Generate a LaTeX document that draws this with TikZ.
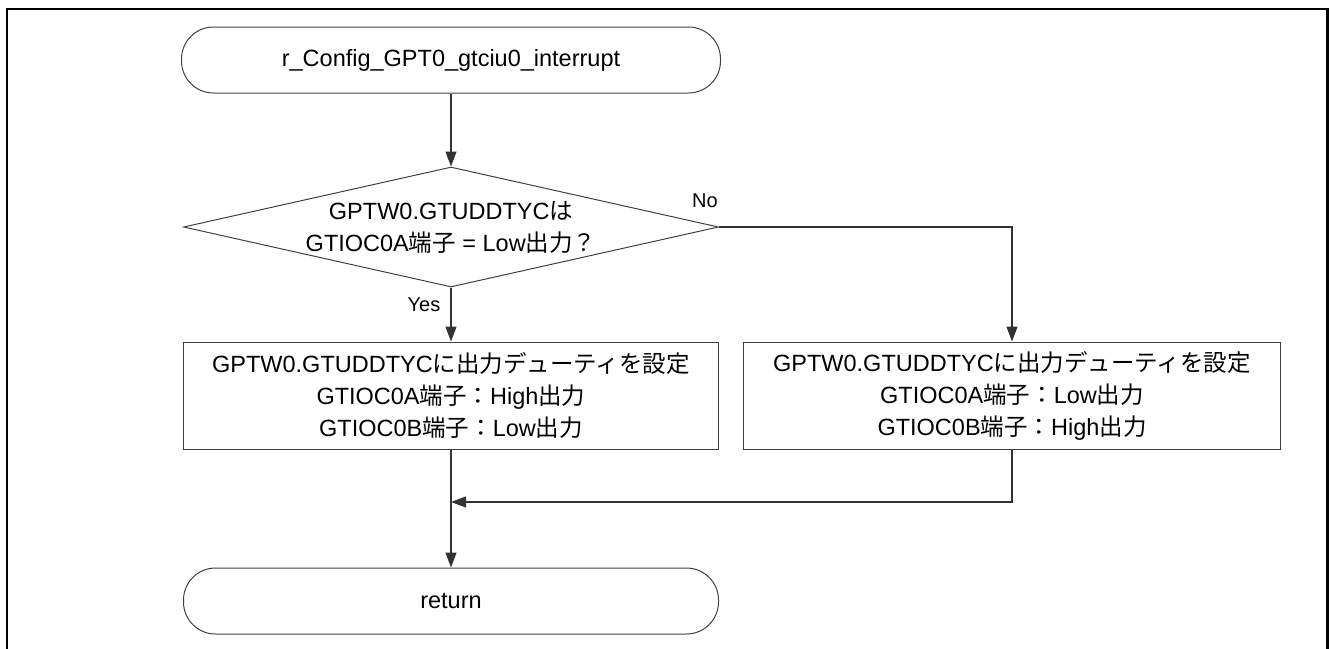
\documentclass[tikz,border=0pt]{standalone}
\usepackage{fontspec}
\setmainfont{Liberation Sans}
\newfontfamily\cjk[Scale=1.0]{Noto Sans CJK JP}
\usetikzlibrary{shapes.geometric,arrows.meta}
\begin{document}
\begin{tikzpicture}[x=1pt,y=-1pt,
  every node/.style={font=\fontsize{23.5}{32}\selectfont, align=center, inner sep=0pt},
  lc/.style={draw=black!75, line width=1pt},
  term/.style={lc, rounded corners=32pt, minimum width=539pt, minimum height=66pt},
  proc/.style={lc, minimum width=535pt, minimum height=107pt},
  dec/.style={lc, diamond, minimum width=535pt, minimum height=120pt, aspect=4.46},
  arr/.style={draw=black!80, line width=1.2pt, -{Triangle[length=15pt,width=11pt]}},
  lab/.style={font=\fontsize{20}{24}\selectfont}
]
\useasboundingbox (0,0) rectangle (1330,648);
\draw[line width=2.5pt] (7,660) -- (7,9) -- (1327.5,9) -- (1327.5,660);

\node[term] (start) at (451,60) {r\_Config\_GPT0\_gtciu0\_interrupt};
\node[dec] (dec) at (451,227) {};
\node (dtxt) at (dec.center) {GPTW0.GTUDDTYC{\cjk は}\\GTIOC0A{\cjk 端子} = Low{\cjk 出力？}};
\node[proc] (yes) at (451,395.5) {GPTW0.GTUDDTYC{\cjk に出力デューティを設定}\\GTIOC0A{\cjk 端子：}High{\cjk 出力}\\GTIOC0B{\cjk 端子：}Low{\cjk 出力}};
\node[proc, minimum width=537pt] (no) at (1012,395.5) {GPTW0.GTUDDTYC{\cjk に出力デューティを設定}\\GTIOC0A{\cjk 端子：}Low{\cjk 出力}\\GTIOC0B{\cjk 端子：}High{\cjk 出力}};
\node[term, minimum width=535pt] (ret) at (451,601) {return};

\node[lab] (nolab) at (705,201) {No};
\node[lab] (yeslab) at (424,305) {Yes};

\coordinate (merge) at (451,502);
\draw[arr] (start) -- (dec);
\draw[arr] (dec) -- (yes);
\draw[arr] (dec.east) -| (no.north);
\draw[arr] (yes) -- (ret);
\draw[arr] (no.south) |- (merge);
\end{tikzpicture}
\end{document}
